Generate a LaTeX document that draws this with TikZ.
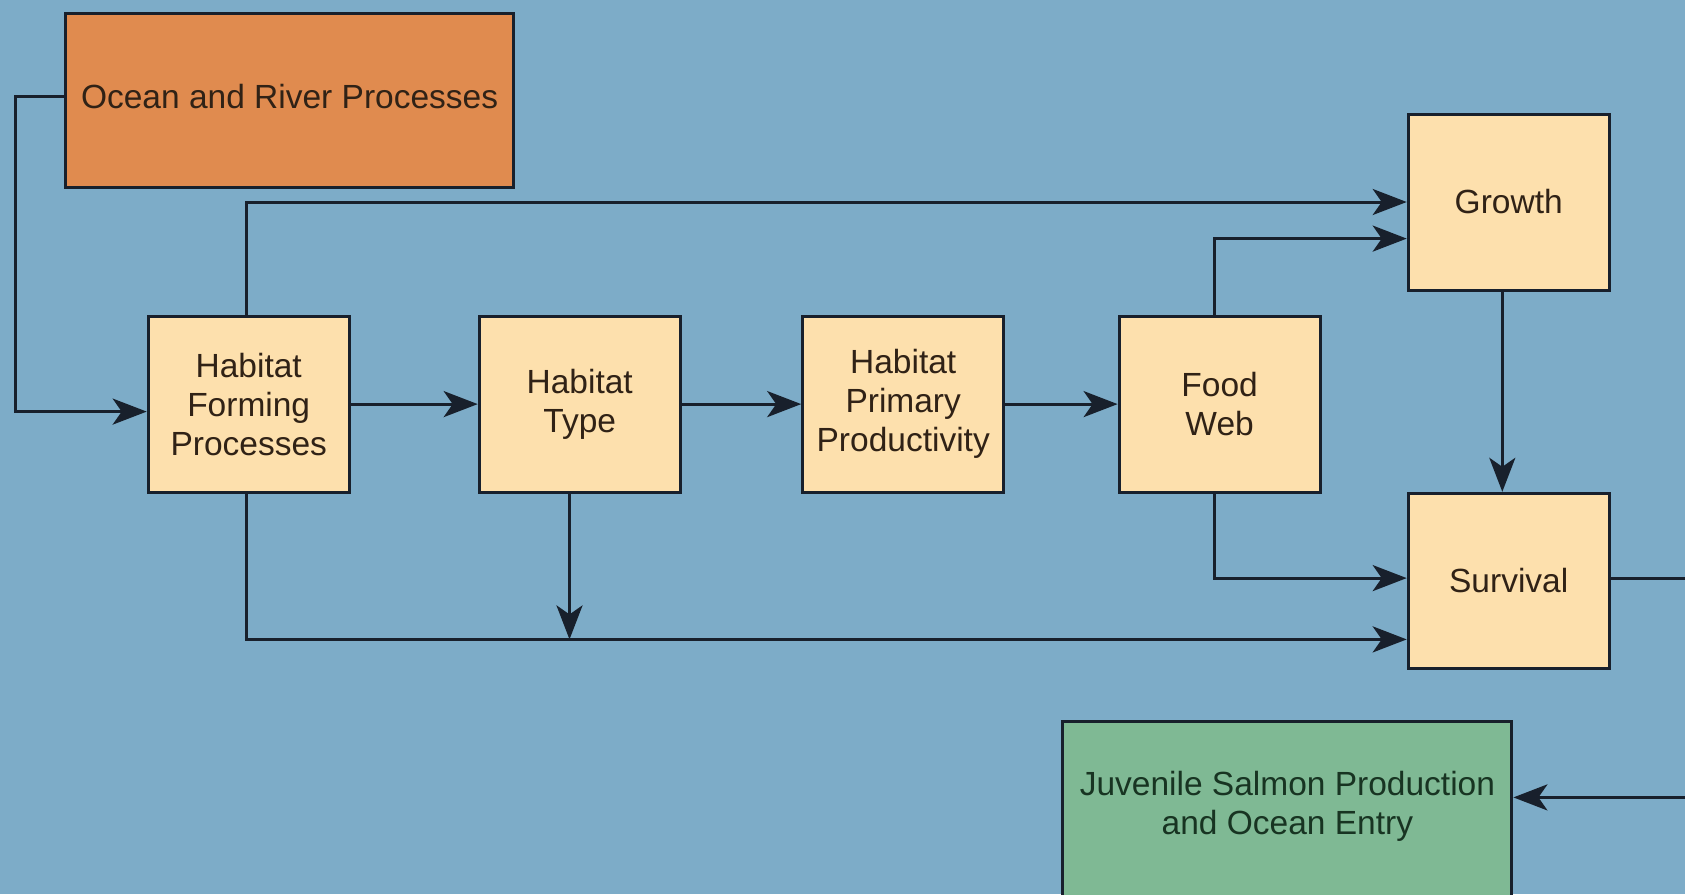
\documentclass[tikz,border=0pt]{standalone}
\usepackage{fontspec}
\setmainfont{Liberation Sans}
\usetikzlibrary{arrows.meta,calc}
\definecolor{bgblue}{RGB}{125,172,200}
\definecolor{orangebox}{RGB}{224,139,79}
\definecolor{creambox}{RGB}{253,224,173}
\definecolor{greenbox}{RGB}{127,185,148}
\definecolor{linecol}{RGB}{24,32,44}
\definecolor{browntext}{RGB}{48,34,22}
\definecolor{greentext}{RGB}{24,52,34}
\tikzset{
  every node/.style={font=\fontsize{33.5}{39}\selectfont},
  boxbase/.style={draw=linecol, line width=3pt, rectangle, inner sep=0pt, align=center},
  creamnode/.style={boxbase, fill=creambox, text=browntext, minimum width=201pt, minimum height=176pt},
  oceannode/.style={boxbase, fill=orangebox, minimum width=448pt, minimum height=174pt},
  juvnode/.style={boxbase, fill=greenbox, minimum width=449pt, minimum height=200pt},
  arr/.style={draw=linecol, line width=3pt, -{Stealth[length=34pt,width=26pt,inset=9pt]}}
}
\begin{document}
\begin{tikzpicture}[x=1pt,y=-1pt]
\clip (0,0) rectangle (1685,894);
\path[use as bounding box] (0,0) rectangle (1685,894);
\fill[bgblue] (0,0) rectangle (1685,894);

\node[oceannode] (ocean) at (289.6,100) {};
\node[text=browntext] (oceantxt) at (289.6,97) {Ocean and River Processes};

\node[creamnode] (hf) at (248.7,404.1) {Habitat\\Forming\\Processes};
\node[creamnode] (ht) at (579.7,404.1) {Habitat\\Type};
\node[creamnode] (hpp) at (903.2,404.1) {Habitat\\Primary\\Productivity};
\node[creamnode] (fw) at (1219.6,404.1) {Food\\Web};
\node[creamnode] (growth) at (1508.7,202) {Growth};
\node[creamnode, minimum height=175pt] (surv) at (1508.7,580.8) {Survival};
\node[juvnode] (juv) at (1287.4,821) {};
\node[text=greentext, align=center] (juvtxt) at (1287.4,806) {Juvenile Salmon Production\\and Ocean Entry};

% left feed from ocean to habitat forming
\coordinate (lt1) at (15,96.7);
\coordinate (lt2) at (15,411.6);
\draw[arr] (ocean.west |- lt1) -- (lt1) -- (lt2) -- (hf.west |- lt2);

% main chain
\draw[arr] (hf.east) -- (ht.west);
\draw[arr] (ht.east) -- (hpp.west);
\draw[arr] (hpp.east) -- (fw.west);

% habitat forming to growth (top)
\coordinate (tp) at (246,202);
\draw[arr] (hf.north -| tp) -- (tp) -- (growth.west |- tp);

% food web to growth
\coordinate (ft) at (1214.3,238.6);
\draw[arr] (fw.north -| ft) -- (ft) -- (growth.west |- ft);

% growth to survival
\coordinate (gx) at (1502.3,300);
\draw[arr] (growth.south -| gx) -- (surv.north -| gx);

% food web to survival
\coordinate (fb) at (1214.3,578.1);
\draw[arr] (fw.south -| fb) -- (fb) -- (surv.west |- fb);

% habitat forming to survival (bottom)
\coordinate (hb) at (246,639.4);
\draw[arr] (hf.south -| hb) -- (hb) -- (surv.west |- hb);

% habitat type down to bottom line
\coordinate (tb) at (569.5,639.4);
\draw[arr] (ht.south -| tb) -- (tb);

% survival to juvenile
\coordinate (rt1) at (1700,578.1);
\coordinate (rt2) at (1700,797.4);
\draw[arr] (surv.east |- rt1) -- (rt1) -- (rt2) -- (juv.east |- rt2);
\end{tikzpicture}
\end{document}
